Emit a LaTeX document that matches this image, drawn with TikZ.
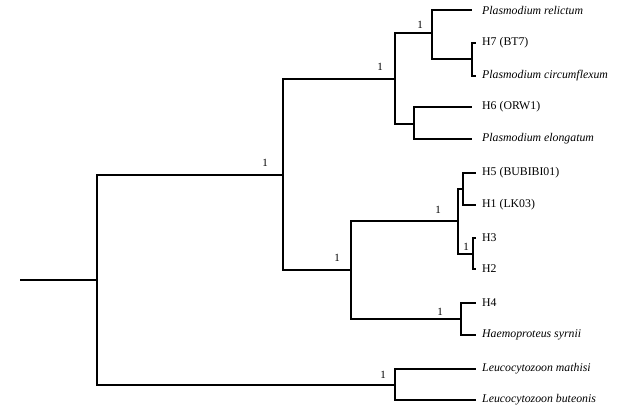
\documentclass[tikz,border=0pt]{standalone}
\usepackage{fontspec}
\setmainfont{Liberation Serif}
\begin{document}
\begin{tikzpicture}[x=1pt,y=-1pt,
  branch/.style={draw, line width=1.5pt, line join=miter},
  leaf/.style={anchor=west, inner sep=0pt, font=\fontsize{11.8}{14}\selectfont},
  sp/.style={leaf, font=\fontsize{11.8}{14}\selectfont\itshape},
  supp/.style={inner sep=0pt, font=\fontsize{11}{13}\selectfont},
  near/.style={shorten >=6pt},
  far/.style={shorten >=10pt}]
\useasboundingbox (0,0) rectangle (621,410);
% internal nodes
\coordinate (r0) at (20,280);
\coordinate (A) at (97,280);
\coordinate (B) at (283,175);
\coordinate (C) at (395,79);
\coordinate (D) at (432,33);
\coordinate (E) at (472,59);
\coordinate (F) at (414,124);
\coordinate (G) at (351,270);
\coordinate (H) at (458,221);
\coordinate (I) at (463,189);
\coordinate (J) at (473,254);
\coordinate (K) at (461,319);
\coordinate (L) at (395,385);
% leaves
\node[sp] (relictum) at (482,10) {Plasmodium relictum};
\node[leaf] (h7) at (482,43) {H7 (BT7)};
\node[sp] (circum) at (482,76) {Plasmodium circumflexum};
\node[leaf] (h6) at (482,107) {H6 (ORW1)};
\node[sp] (elong) at (482,139) {Plasmodium elongatum};
\node[leaf] (h5) at (482,173) {H5 (BUBIBI01)};
\node[leaf] (h1) at (482,205) {H1 (LK03)};
\node[leaf] (h3) at (482,238) {H3};
\node[leaf] (h2) at (482,269) {H2};
\node[leaf] (h4) at (482,303) {H4};
\node[sp] (haemo) at (482,335) {Haemoproteus syrnii};
\node[sp] (mathisi) at (482,369) {Leucocytozoon mathisi};
\node[sp] (buteo) at (482,400) {Leucocytozoon buteonis};
% branches
\path[branch] (r0) -- (A);
\path[branch] (A) |- (B);
\path[branch] (A) |- (L);
\path[branch] (B) |- (C);
\path[branch] (B) |- (G);
\path[branch] (C) |- (D);
\path[branch] (C) |- (F);
\path[branch, far] (D) |- (relictum.west);
\path[branch] (D) |- (E);
\path[branch, near] (E) |- (h7.west);
\path[branch, near] (E) |- (circum.west);
\path[branch, far] (F) |- (h6.west);
\path[branch, far] (F) |- (elong.west);
\path[branch] (G) |- (H);
\path[branch] (G) |- (K);
\path[branch] (H) |- (I);
\path[branch] (H) |- (J);
\path[branch, near] (I) |- (h5.west);
\path[branch, near] (I) |- (h1.west);
\path[branch, near] (J) |- (h3.west);
\path[branch, near] (J) |- (h2.west);
\path[branch, near] (K) |- (h4.west);
\path[branch, near] (K) |- (haemo.west);
\path[branch, near] (L) |- (mathisi.west);
\path[branch, near] (L) |- (buteo.west);
% support values
\node[supp] (sB) at (265,163) {1};
\node[supp] (sC) at (380,67) {1};
\node[supp] (sD) at (420,25) {1};
\node[supp] (sG) at (337,258) {1};
\node[supp] (sH) at (438,210) {1};
\node[supp] (sJ) at (466,247) {1};
\node[supp] (sK) at (440,312) {1};
\node[supp] (sL) at (383,375) {1};
\end{tikzpicture}
\end{document}
